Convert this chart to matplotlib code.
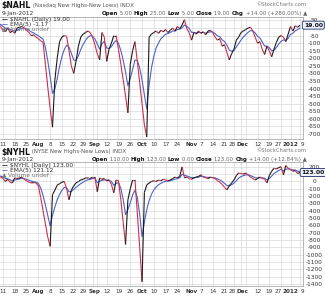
import numpy as np
import pandas as pd
import matplotlib
matplotlib.use("Agg")
import matplotlib.pyplot as plt
import matplotlib.transforms as mtrans
from matplotlib.collections import LineCollection

# ---------------- data ----------------
holidays = ["2011-09-05", "2011-11-24", "2011-12-26", "2012-01-02"]
dates = pd.bdate_range("2011-07-07", "2012-01-09")
dates = dates[~dates.isin(pd.to_datetime(holidays))]

nahl = [30, 10, -15, -25, 0, -30, -20, -35, 0, 5, 10, 0, -15, -30, -50, -45, -60,
        -70, -85, -95, -240, -390, -530, -655, -345, -200, -90, -60, -50, -55, -150,
        -250, -300, -220, -120, -60, -40, -30, -20, -30, -60, -110, -170, -210, -30,
        -60, -220, -140, -100, -50, -50, -140, -240, -340, -450, -560, -240, -150, -90,
        -220, -360, -500, -640, -720, -60, -40, -30, -20, -35, -15, -25, -10, -30, -15,
        0, -20, 10, -5, 20, 55, -5, -30, -80, -30, -40, -20, -35, -25, -45, -20, -15,
        -30, -60, -80, -70, -120, -110, -160, -210, -170, -140, -80, -60, -30, -20, -10,
        0, 5, -20, -60, -100, -90, -140, -175, -120, -150, -190, -140, -95, -60, -50,
        -60, -90, -40, 10, -20, 15, 5, 19]

nyhl = [80, 60, 40, 0, 30, -10, -20, 50, 40, 47, 60, 30, 10, -10, -20, -15, -20,
        -60, -220, -400, -580, -760, -885, -180, -120, -50, -30, -10, 0, -100, -250,
        -120, -60, -20, 0, 20, 30, 47, 50, 40, 60, 60, -140, 47, 30, 40, 10, 20, -40,
        -155, 20, 10, -250, -560, -860, -250, -100, 20, 20, -430, -900, -1370, -150,
        -47, -20, 0, 10, 0, 20, 10, 30, 20, 10, 20, 40, 60, 50, 70, 200, 50, 60, 40,
        30, 50, 60, 70, 90, 60, 50, 40, 60, 50, 40, 10, -10, -40, -80, -115, -60, -20,
        20, 80, 115, 110, 100, 115, 90, 60, 40, 20, 40, 60, 47, 30, -20, 80, 140, 180,
        170, 190, 200, 90, 220, 180, 160, 140, 150, 109, 123]

tick_dates = ["2011-07-11", "2011-07-18", "2011-07-25", "2011-08-01", "2011-08-08",
              "2011-08-15", "2011-08-22", "2011-08-29", "2011-09-01", "2011-09-12",
              "2011-09-19", "2011-09-26", "2011-10-03", "2011-10-10", "2011-10-17",
              "2011-10-24", "2011-11-01", "2011-11-07", "2011-11-14", "2011-11-21",
              "2011-11-28", "2011-12-01", "2011-12-12", "2011-12-19", "2011-12-27",
              "2012-01-03", "2012-01-09"]
tick_labels = ["11", "18", "25", "Aug", "8", "15", "22", "29", "Sep", "12", "19", "26",
               "Oct", "10", "17", "24", "Nov", "7", "14", "21", "28", "Dec", "12", "19",
               "27", "2012", "9"]
extra_grid_dates = ["2011-09-06", "2011-10-31", "2011-12-05"]

W, H = 325, 300
RED = "#d42c48"
BLUE = "#4b63c8"
BLACK = "#1a1a1a"
GRID = "#d9d9d9"
FONT = "DejaVu Sans"

plt.rcParams["font.family"] = FONT

fig = plt.figure(figsize=(W / 100, H / 100), dpi=100)
fig.patch.set_facecolor("white")

x = np.arange(len(dates))
date_idx = {d.strftime("%Y-%m-%d"): i for i, d in enumerate(dates)}
tick_pos = [date_idx[d] for d in tick_dates]
grid_pos = tick_pos + [date_idx[d] for d in extra_grid_dates]
jul11 = date_idx["2011-07-11"]
xl = (jul11 - 1.27, date_idx["2012-01-09"] + 1.3)

# small horizontal nudges (px) for crowded label pairs
label_nudge = {7: -2.0, 8: 1.8, 20: -2.0, 21: 1.8, 24: -2.5, 25: -0.5, 26: 2.0}


def px_axes(left, top, right, bottom):
    return fig.add_axes([left / W, 1 - bottom / H, (right - left) / W, (bottom - top) / H])


def draw_panel(ax, vals, ylim, ytick_vals, grid_vals, hidden_tick):
    vals = np.asarray(vals, dtype=float)
    ema = pd.Series(vals).ewm(span=5, adjust=False).mean().values
    ax.set_xlim(*xl)
    ax.set_ylim(*ylim)
    for g in grid_vals:
        ax.axhline(g, color=GRID, lw=0.5, zorder=0)
    for g in grid_pos:
        ax.axvline(g, color=GRID, lw=0.5, zorder=0)
    ax.plot(x, ema, color=BLUE, lw=0.8, zorder=2)
    segs = [[(x[k], vals[k]), (x[k + 1], vals[k + 1])] for k in range(len(vals) - 1)]
    cols = [BLACK if vals[k + 1] >= vals[k] else RED for k in range(len(vals) - 1)]
    lc = LineCollection(segs, colors=cols, linewidths=0.8, zorder=3)
    ax.add_collection(lc)
    ax.yaxis.tick_right()
    ax.set_yticks(ytick_vals)
    ax.set_yticklabels(["" if v == hidden_tick else str(v) for v in ytick_vals])
    ax.tick_params(axis="y", length=0, pad=8, labelsize=4.2, labelcolor="#333333")
    for lab in ax.get_yticklabels():
        lab.set_horizontalalignment("center")
    ax.set_xticks(tick_pos)
    ax.set_xticklabels(tick_labels)
    ax.tick_params(axis="x", length=0, pad=2, labelsize=4.1, labelcolor="#333333")
    for k, lab in enumerate(ax.get_xticklabels()):
        if lab.get_text() in ("Aug", "Sep", "Oct", "Nov", "Dec", "2012"):
            lab.set_fontweight("bold")
        if k in label_nudge:
            off = mtrans.ScaledTranslation(label_nudge[k] / 100.0, 0, fig.dpi_scale_trans)
            lab.set_transform(lab.get_transform() + off)
    for s in ax.spines.values():
        s.set_color("#999999")
        s.set_linewidth(0.5)
    ax.spines["left"].set_visible(False)
    ax.set_facecolor("white")
    return ema


renderer = fig.canvas.get_renderer()


def chain(x0, y0, parts, align_right=False):
    objs = []
    xcur = x0
    for txt, weight, color, size in parts:
        t = fig.text(xcur / W, 1 - y0 / H, txt, fontsize=size, fontweight=weight,
                     color=color, va="center", ha="left")
        bb = t.get_window_extent(renderer)
        xcur = bb.x1
        objs.append(t)
    if align_right:
        width = xcur - x0
        xc = x0 - width
        for t in objs:
            t.set_x(xc / W)
            bb = t.get_window_extent(renderer)
            xc = bb.x1
    return objs


def header(y_title, y_date, y_leg, sym, name, openl, legend_vals, value, ax):
    chain(1.5, y_title, [(sym, "bold", "#111111", 5.6), (" " + name, "normal", "#555555", 4.0)])
    fig.text(1.5 / W, 1 - y_date / H, "9-Jan-2012", fontsize=4.2, color="#333333", va="center")
    fig.text(306 / W, 1 - (y_title - 1.5) / H, "\u00a9StockCharts.com", fontsize=3.8,
             color="#777777", va="center", ha="right")
    chain(307, y_date, openl, align_right=True)
    labels = [("\u2014", BLACK, sym + " (Daily) " + legend_vals[0]),
              ("\u2014", BLUE, "EMA(5) " + legend_vals[1]),
              ("\u25b2", "#777777", "Volume undef")]
    for k, (mk, c, lab) in enumerate(labels):
        yy = y_leg + 5 * k
        chain(2, yy, [(mk + " ", "bold", c, 4.2),
                      (lab, "normal", "#333333" if k < 2 else "#777777", 4.2)])
    ax.annotate(value, xy=(1.034, float(value)), xycoords=("axes fraction", "data"),
                fontsize=4.3, fontweight="bold", color="#111111", ha="center", va="center",
                bbox=dict(boxstyle="round,pad=0.25", fc="#eef1ff", ec="#1d2a6a", lw=0.6),
                annotation_clip=False, zorder=6)


def open_line(o, h, l, c, chg):
    parts = []
    for name, val in (("Open", o), ("High", h), ("Low", l), ("Close", c), ("Chg", chg)):
        parts.append((name, "bold", "#111111", 4.0))
        parts.append((" " + val + " ", "normal", "#666666", 4.0))
    parts[-1] = (parts[-1][0] + "\u25b2", "normal", "#666666", 4.0)
    return parts


# ---------------- top panel ----------------
ax1 = px_axes(0, 16.5, 303, 139)
top_ticks = list(range(-700, 51, 50))
draw_panel(ax1, nahl, (-733, 76), top_ticks, top_ticks, 0)
header(5.5, 13.5, 19.5, "$NAHL", "(Nasdaq New Highs-New Lows) INDX",
       open_line("5.00", "25.00", "5.00", "19.00", "+14.00 (+280.00%)"),
       ("19.00", "-1.17"), "19.00", ax1)

# ---------------- bottom panel ----------------
ax2 = px_axes(0, 162, 303, 286)
bot_ticks = list(range(-1400, 201, 100))
draw_panel(ax2, nyhl, (-1428, 266), bot_ticks, bot_ticks, 100)
header(152, 159.5, 165.5, "$NYHL", "(NYSE New Highs-New Lows) INDX",
       open_line("110.00", "123.00", "0.00", "123.00", "+14.00 (+12.84%)"),
       ("123.00", "121.12"), "123.00", ax2)

fig.savefig("out.png", dpi=100, facecolor="white")
